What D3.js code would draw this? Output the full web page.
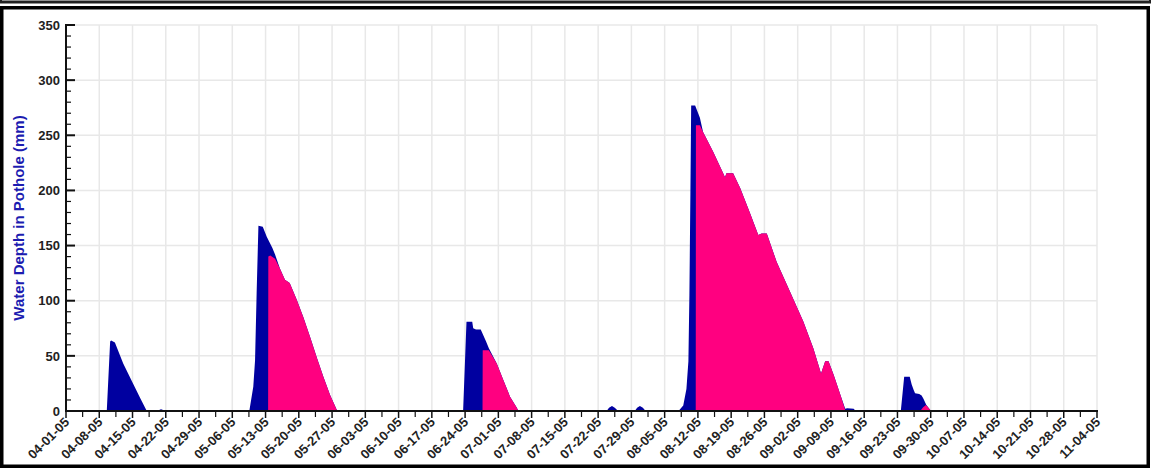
<!DOCTYPE html>
<html>
<head>
<meta charset="utf-8">
<script src="https://cdn.jsdelivr.net/npm/d3@7"></script>
<style>
  html, body { margin: 0; padding: 0; background: #fff; }
  svg { display: block; }
</style>
</head>
<body>
<svg id="chart" width="1151" height="470"></svg>
<script>
// ---- Data ----
const weekTicks = ["04-01-05","04-08-05","04-15-05","04-22-05","04-29-05","05-06-05","05-13-05","05-20-05",
  "05-27-05","06-03-05","06-10-05","06-17-05","06-24-05","07-01-05","07-08-05","07-15-05","07-22-05",
  "07-29-05","08-05-05","08-12-05","08-19-05","08-26-05","09-02-05","09-09-05","09-16-05","09-23-05",
  "09-30-05","10-07-05","10-14-05","10-21-05","10-28-05","11-04-05"];
const yTicks = [0, 50, 100, 150, 200, 250, 300, 350];

// Blue series: total water depth (date "mm-dd-yy HH", value mm)
const blueTimes = ["04-01-05 00","04-09-05 14","04-10-05 07","04-10-05 12","04-11-05 07","04-13-05 01","04-15-05 05","04-16-05 14","04-18-05 00",
  "04-20-05 02","04-21-05 00","04-22-05 00",
  "05-09-05 14","05-10-05 10","05-10-05 19","05-11-05 03","05-11-05 12","05-12-05 10","05-13-05 06","05-14-05 10","05-15-05 00",
  "05-16-05 01","05-17-05 02","05-18-05 02","05-19-05 13","05-20-05 23","05-22-05 09","05-23-05 18","05-25-05 04","05-26-05 14","05-28-05 00","05-28-05 02",
  "06-23-05 14","06-24-05 07","06-25-05 12","06-25-05 17","06-26-05 07","06-27-05 07","06-28-05 10","06-29-05 00",
  "06-30-05 16","07-02-05 01","07-03-05 11","07-04-05 22","07-05-05 05",
  "07-23-05 19","07-24-05 07","07-24-05 22","07-25-05 12","07-26-05 05",
  "07-29-05 17","07-30-05 05","07-30-05 19","07-31-05 10","08-01-05 00",
  "08-07-05 22","08-08-05 22","08-09-05 14","08-10-05 00","08-10-05 05","08-10-05 10","08-10-05 14","08-11-05 10","08-12-05 10","08-13-05 02",
  "08-15-05 05","08-17-05 00","08-17-05 17","08-18-05 00","08-19-05 10","08-20-05 22","08-23-05 00","08-24-05 17","08-25-05 10","08-26-05 12",
  "08-28-05 14","08-31-05 10","09-03-05 05","09-05-05 07","09-06-05 22","09-07-05 19","09-08-05 12","09-09-05 14","09-11-05 00","09-12-05 00",
  "09-12-05 10","09-13-05 19","09-14-05 05",
  "09-23-05 17","09-24-05 10","09-25-05 14","09-26-05 00","09-26-05 10","09-26-05 17","09-27-05 14","09-28-05 02","09-28-05 10","09-29-05 02",
  "09-29-05 22","09-30-05 02","11-04-05 00"];
const blueValues = [0,0,63,64,62,43,24,12,0,
  0,1.5,0,
  0,22,46,107,168,167,158,148,142,
  129,119,116,101,85,67,49,31,14.5,1,0,
  0,81,81,75,74,74,63,57,
  43,28,13,2.7,0,
  0,3,4.5,3,0,
  0,3,4.5,3,0,
  0,5,20,45,105,196,277,277,266,253,
  235,218.5,212,215.5,215.5,202,179,159.6,161,161,
  135,108,81,57,34,45,45,32.6,14.5,2,
  2.5,2,0,
  0,31,31,24,19,16,15.5,14,11.5,5.5,
  1,0,0];

// Pink series: (overlaid on the falling limbs)
const pinkTimes = ["04-01-05 00",
  "05-13-05 13","05-13-05 14","05-14-05 00","05-15-05 00","05-16-05 01","05-17-05 02","05-18-05 02","05-19-05 13","05-20-05 23",
  "05-22-05 09","05-23-05 18","05-25-05 04","05-26-05 14","05-28-05 00","05-28-05 02",
  "06-27-05 16","06-27-05 17","06-29-05 00","06-30-05 16","07-02-05 01","07-03-05 11","07-04-05 22","07-05-05 05",
  "08-11-05 13","08-11-05 14","08-12-05 10","08-13-05 02","08-15-05 05","08-17-05 00","08-17-05 17","08-18-05 00","08-19-05 10",
  "08-20-05 22","08-23-05 00","08-24-05 17","08-25-05 10","08-26-05 12","08-28-05 14","08-31-05 10","09-03-05 05","09-05-05 07",
  "09-06-05 22","09-07-05 19","09-08-05 12","09-09-05 14","09-11-05 00","09-12-05 00","09-12-05 02",
  "09-27-05 19","09-28-05 10","09-29-05 00","09-29-05 22","09-30-05 02","11-04-05 00"];
const pinkValues = [0,
  0,140,141,138,129,119,116,101,85,
  67,49,31,14.5,1,0,
  0,55,55,43,28,13,2.7,0,
  0,259,259,253,235,218.5,212,215.5,215.5,
  202,179,159.6,161,161,135,108,81,57,
  34,45,45,32.6,14.5,1,0,
  0,3.5,5.5,1,0,0];

// ---- Drawing ----
const parseT = d3.utcParse("%m-%d-%y %H");
const parseD = d3.utcParse("%m-%d-%y");
const svg = d3.select("#chart");

const margin = {left: 66, right: 1097, top: 25, bottom: 411};
const x = d3.scaleUtc()
  .domain([parseD(weekTicks[0]), parseD(weekTicks[weekTicks.length - 1])])
  .range([margin.left, margin.right]);
const y = d3.scaleLinear().domain([0, 350]).range([margin.bottom, margin.top]);

// frames
svg.append("rect").attr("x", 0.5).attr("y", -10).attr("width", 1150).attr("height", 12)
  .attr("fill", "#fff").attr("stroke", "#222").attr("stroke-width", 3);
svg.append("rect").attr("x", 1.75).attr("y", 7.75).attr("width", 1146.5).attr("height", 458.5)
  .attr("fill", "#fff").attr("stroke", "#000").attr("stroke-width", 3.5);

const tickDates = weekTicks.map(parseD);
const minorDates = tickDates.slice(0, -1).map((d, i) => new Date((+d + +tickDates[i + 1]) / 2));

// gridlines
const grid = svg.append("g").attr("stroke", "#e8e8e8").attr("stroke-width", 1.5);
tickDates.slice(1).forEach(d => {
  grid.append("line").attr("x1", x(d)).attr("x2", x(d)).attr("y1", margin.top).attr("y2", margin.bottom);
});
yTicks.slice(1).forEach(v => {
  grid.append("line").attr("x1", margin.left).attr("x2", margin.right).attr("y1", y(v)).attr("y2", y(v));
});

// series
function pts(times, vals) { return times.map((t, i) => [parseT(t), vals[i]]); }
const area = d3.area().x(d => x(d[0])).y0(y(0)).y1(d => y(d[1]));
svg.append("path").datum(pts(blueTimes, blueValues)).attr("d", area).attr("fill", "#0000a0");
svg.append("path").datum(pts(pinkTimes, pinkValues)).attr("d", area).attr("fill", "#ff0080");

// y axis
const yMinor = d3.range(0, 351, 10).filter(v => v % 50 !== 0);
const yAx = svg.append("g").attr("stroke", "#111");
yAx.append("line").attr("x1", margin.left).attr("x2", margin.left).attr("y1", margin.top - 1).attr("y2", margin.bottom)
  .attr("stroke-width", 2);
yMinor.forEach(v => yAx.append("line").attr("x1", margin.left).attr("x2", margin.left + 5)
  .attr("y1", y(v)).attr("y2", y(v)).attr("stroke-width", 1.2));
yTicks.forEach(v => yAx.append("line").attr("x1", margin.left - 1).attr("x2", margin.left + 9)
  .attr("y1", y(v)).attr("y2", y(v)).attr("stroke-width", 2));
svg.append("g").selectAll("text").data(yTicks).join("text")
  .attr("x", margin.left - 6).attr("y", d => y(d)).attr("dy", "0.36em")
  .attr("text-anchor", "end").attr("font-family", "Liberation Sans, Arial, sans-serif")
  .attr("font-weight", "bold").attr("font-size", 13).attr("fill", "#222").text(d => d);

// x axis
const xAx = svg.append("g").attr("stroke", "#111");
xAx.append("line").attr("x1", margin.left - 1).attr("x2", margin.right + 1).attr("y1", margin.bottom).attr("y2", margin.bottom)
  .attr("stroke-width", 2);
tickDates.forEach(d => xAx.append("line").attr("x1", x(d)).attr("x2", x(d))
  .attr("y1", margin.bottom).attr("y2", margin.bottom + 7).attr("stroke-width", 1.5));
minorDates.forEach(d => xAx.append("line").attr("x1", x(d)).attr("x2", x(d))
  .attr("y1", margin.bottom).attr("y2", margin.bottom + 6).attr("stroke-width", 1.2));
svg.append("g").selectAll("text").data(weekTicks).join("text")
  .attr("transform", d => `translate(${x(parseD(d)) + 4},${margin.bottom + 12}) rotate(-45)`)
  .attr("text-anchor", "end").attr("font-family", "Liberation Sans, Arial, sans-serif")
  .attr("font-weight", "bold").attr("font-size", 13).attr("fill", "#222").text(d => d);

// y label
svg.append("text")
  .attr("transform", `translate(24,${(margin.top + margin.bottom) / 2}) rotate(-90)`)
  .attr("text-anchor", "middle").attr("font-family", "Liberation Sans, Arial, sans-serif")
  .attr("font-weight", "bold").attr("font-size", 15).attr("fill", "#1c1cb0")
  .text("Water Depth in Pothole (mm)");
</script>
</body>
</html>
